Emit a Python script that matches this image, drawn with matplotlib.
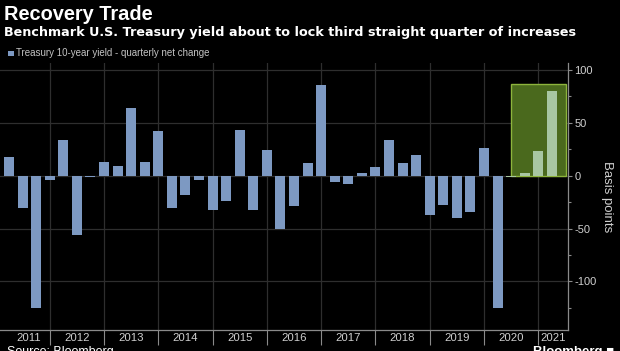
import numpy as np
import matplotlib
matplotlib.use("Agg")
import matplotlib.pyplot as plt
from matplotlib.patches import Rectangle

# quarterly net change of the 10-year Treasury yield, basis points, 2011 Q1 .. 2021 Q1
years = list(range(2011, 2022))
quarters = [f"{y} Q{q}" for y in years for q in range(1, 5)][:41]
values = [18, -31, -125, -4, 34, -56, -1, 13, 9, 64, 13, 42,
          -31, -18, -4, -32, -24, 43, -32, 24, -50, -29, 12, 86,
          -6, -8, 3, 8, 34, 12, 20, -37, -28, -40, -34, 26,
          -125, -1, 3, 23, 80]
highlight_from = "2020 Q2"
yticks = [100, 50, 0, -50, -100]

W, H = 620, 351
fig = plt.figure(figsize=(W / 100, H / 100), dpi=100, facecolor="black")
font = ["Liberation Sans", "DejaVu Sans"]
plt.rcParams["font.family"] = font

def px(x, y):
    return x / W, 1 - y / H

# axes placed in pixel terms
ax_l, ax_r, ax_t, ax_b = 0, 568, 63, 330
ax = fig.add_axes([ax_l / W, 1 - ax_b / H, (ax_r - ax_l) / W, (ax_b - ax_t) / H])
ax.set_facecolor("black")

x = np.arange(len(values))
hi = quarters.index(highlight_from)
bar_col = ["#7d99c2" if i < hi else "#a8c6a2" for i in x]

ax.set_xlim(-0.66, 41.19)
ax.set_ylim(-146, 106.6)

# grid
for yv in yticks:
    ax.axhline(yv, color="#2e2e2e", lw=0.9, zorder=0)
bounds = [4 * k - 1 for k in range(1, len(years))]
for b in bounds:
    ax.axvline(b, color="#2e2e2e", lw=0.9, zorder=0)

# highlight box
box = Rectangle((hi, 0), len(values) + 0.02 - hi, max(values[hi:]) + 7,
                facecolor="#4a691d", edgecolor="#8db43c", lw=1.0, zorder=1)
ax.add_patch(box)

ax.bar(x, values, width=0.74, color=bar_col, zorder=2)

for s in ["top", "left"]:
    ax.spines[s].set_visible(False)
for s in ["bottom", "right"]:
    ax.spines[s].set_color("#8a8a8a")
    ax.spines[s].set_linewidth(0.9)

ax.yaxis.tick_right()
ax.set_yticks(yticks)
ax.set_yticklabels([str(v) for v in yticks])
ax.set_yticks([75, 25, -25, -75, -125], minor=True)
ax.tick_params(axis="y", which="both", colors="#8a8a8a", labelcolor="#d0d0d0",
               labelsize=8, length=3, width=0.8, pad=1.5)
ax.tick_params(axis="y", which="minor", length=2)

# year boundary ticks below the axis, labels centred in the visible span
ax.set_xticks(bounds)
ax.set_xticklabels([])
ax.tick_params(axis="x", colors="#8a8a8a", length=11, width=0.8, direction="out")
edges = [ax.get_xlim()[0]] + bounds + [ax.get_xlim()[1]]
for i, yr in enumerate(years):
    cx = (edges[i] + edges[i + 1]) / 2
    if i == 0:
        cx += 0.3
    ax.text(cx, -0.012, str(yr), transform=ax.get_xaxis_transform(),
            ha="center", va="top", color="#d0d0d0", fontsize=8.2)

ax.yaxis.set_label_position("right")
ax.set_ylabel("Basis points", rotation=270, color="#d0d0d0", fontsize=9.5, labelpad=12)

# titles and legend
fig.text(*px(4, 14), "Recovery Trade", color="white", fontsize=14.4,
         weight="bold", va="center", ha="left")
fig.text(*px(4, 32.5), "Benchmark U.S. Treasury yield about to lock third straight quarter of increases",
         color="white", fontsize=9.15, weight="bold", va="center", ha="left",
         family=["DejaVu Sans"])
fig.patches.append(Rectangle(px(8, 56), 6 / W, 5 / H, transform=fig.transFigure,
                             facecolor="#7d99c2", edgecolor="none"))
fig.text(*px(16, 53.5), "Treasury 10-year yield - quarterly net change",
         color="#c4c4c4", fontsize=7.0, va="center", ha="left")

fig.text(*px(7, 346.5), "Source: Bloomberg", color="white", fontsize=9,
         va="top", ha="left")
fig.text(*px(614, 346.5), "Bloomberg \u25a0", color="white", fontsize=9.5, weight="bold",
         va="top", ha="right", family=font)

fig.savefig("out.png", dpi=100, facecolor="black")
